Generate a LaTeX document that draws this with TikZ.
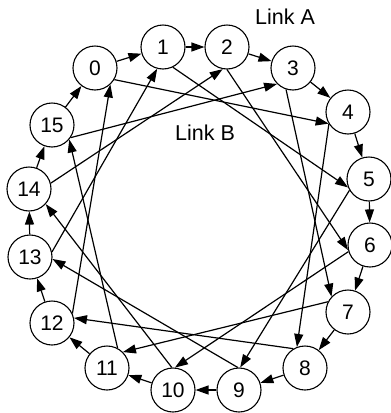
\documentclass[tikz,border=0pt]{standalone}
\usepackage{fontspec}
\setmainfont{Liberation Sans}
\usetikzlibrary{arrows.meta}
\begin{document}
\begin{tikzpicture}[x=1pt,y=-1pt,
  nd/.style={circle,draw,line width=1.1pt,minimum size=44pt,inner sep=0pt,font=\fontsize{21}{21}\selectfont},
  ar/.style={line width=1.2pt,-{Triangle[length=13pt,width=9pt]}},
  lbl/.style={font=\fontsize{21.5}{21.5}\selectfont,inner sep=0pt}
]
\useasboundingbox (0,0) rectangle (391,413);
\node[nd] (n0) at (95,68) {0};
\node[nd] (n1) at (163,47) {1};
\node[nd] (n2) at (227,47) {2};
\node[nd] (n3) at (293,68) {3};
\node[nd] (n4) at (348,112) {4};
\node[nd] (n5) at (369,179) {5};
\node[nd] (n6) at (370,245) {6};
\node[nd] (n7) at (348,312) {7};
\node[nd] (n8) at (305,368) {8};
\node[nd] (n9) at (239,390) {9};
\node[nd] (n10) at (173,390) {10};
\node[nd] (n11) at (107,368) {11};
\node[nd] (n12) at (52,323) {12};
\node[nd] (n13) at (30,257) {13};
\node[nd] (n14) at (29,189) {14};
\node[nd] (n15) at (52,125) {15};
% ring
\draw[ar] (n0) -- (n1);
\draw[ar] (n1) -- (n2);
\draw[ar] (n2) -- (n3);
\draw[ar] (n3) -- (n4);
\draw[ar] (n4) -- (n5);
\draw[ar] (n5) -- (n6);
\draw[ar] (n6) -- (n7);
\draw[ar] (n7) -- (n8);
\draw[ar] (n8) -- (n9);
\draw[ar] (n9) -- (n10);
\draw[ar] (n10) -- (n11);
\draw[ar] (n11) -- (n12);
\draw[ar] (n12) -- (n13);
\draw[ar] (n13) -- (n14);
\draw[ar] (n14) -- (n15);
\draw[ar] (n15) -- (n0);
% chords
\draw[ar] (n0.-31) -- (n4.211);
\draw[ar] (n1.-64) -- (n5.202);
\draw[ar] (n2.-90) -- (n6.193);
\draw[ar] (n3.-108) -- (n7.137);
\draw[ar] (n4.212) -- (n8.111);
\draw[ar] (n5.210) -- (n9.87);
\draw[ar] (n6.197) -- (n10.85);
\draw[ar] (n7.153) -- (n11.45);
\draw[ar] (n8.121) -- (n12.13);
\draw[ar] (n9.93) -- (n13.-5);
\draw[ar] (n10.93) -- (n14.-42);
\draw[ar] (n11.62) -- (n15.-40);
\draw[ar] (n12.25) -- (n0.-47);
\draw[ar] (n13.13) -- (n1.-105);
\draw[ar] (n14.15) -- (n2.-101);
\draw[ar] (n15.-34) -- (n3.-135);
\node[lbl] (la) at (285,17) {Link A};
\node[lbl] (lb) at (205,132.5) {Link B};
\end{tikzpicture}
\end{document}
